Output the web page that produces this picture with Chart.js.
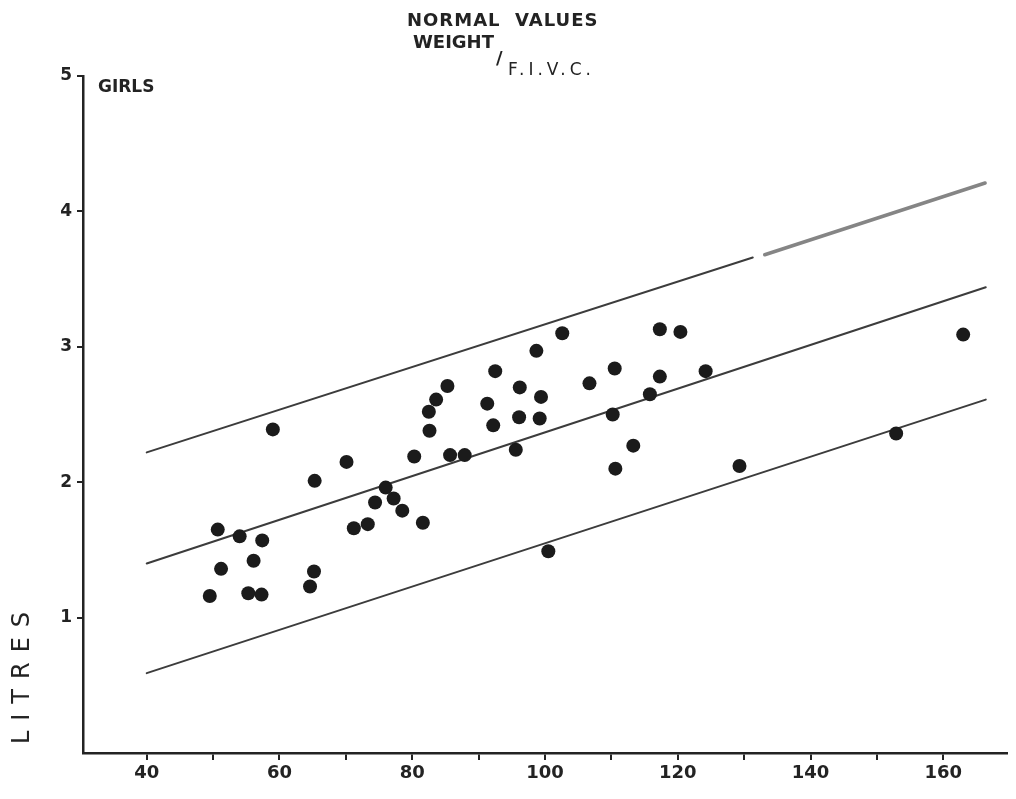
<!DOCTYPE html>
<html>
<head>
<meta charset="utf-8">
<title>Normal values - weight / F.I.V.C.</title>
<script src="https://cdn.jsdelivr.net/npm/chart.js@4/dist/chart.umd.min.js"></script>
<style>
  html, body { margin: 0; padding: 0; background: #fff; }
  #chart { display: block; }
</style>
</head>
<body>
<canvas id="chart" width="1016" height="799"></canvas>
<script>
// girls: body weight (x) against F.I.V.C. in litres (y)
const weights = [49.5, 50.7, 51.2, 54.0, 55.3, 56.1, 57.4, 57.3, 59.0, 64.6,
  65.2, 65.3, 70.1, 71.2, 73.3, 74.4, 76.0, 77.2, 78.5, 80.3,
  81.6, 82.6, 82.5, 83.6, 85.3, 85.7, 87.9, 91.3, 92.2, 92.5,
  95.6, 96.1, 96.2, 98.7, 99.2, 99.4, 100.5, 102.6, 106.7, 110.2,
  110.5, 110.6, 113.3, 115.8, 117.3, 117.3, 120.4, 124.2, 129.3, 152.9,
  163.0];
const litres = [1.16, 1.65, 1.36, 1.60, 1.18, 1.42, 1.57, 1.17, 2.39, 1.23,
  1.34, 2.01, 2.15, 1.66, 1.69, 1.85, 1.96, 1.88, 1.79, 2.19,
  1.70, 2.38, 2.52, 2.61, 2.71, 2.20, 2.20, 2.58, 2.42, 2.82,
  2.24, 2.48, 2.70, 2.97, 2.47, 2.63, 1.49, 3.10, 2.73, 2.50,
  2.84, 2.10, 2.27, 2.65, 3.13, 2.78, 3.11, 2.82, 2.12, 2.36,
  3.09];

// mean line and the two limit lines (upper one is broken near 132)
const upperLineX = [40, 131.3];
const upperLineY = [2.22, 3.66];
const upperFadedX = [133.1, 166.3];
const upperFadedY = [3.68, 4.21];
const middleLineX = [40, 166.4];
const middleLineY = [1.40, 3.44];
const lowerLineX = [40, 166.4];
const lowerLineY = [0.59, 2.61];

const xTicks = [40, 50, 60, 70, 80, 90, 100, 110, 120, 130, 140, 150, 160];
const yTicks = [1, 2, 3, 4, 5];

const ink = '#232323';

function pts(xs, ys) {
  return xs.map((x, i) => ({ x: x, y: ys[i] }));
}

function lineSet(xs, ys, color, width) {
  return {
    type: 'line',
    data: pts(xs, ys),
    borderColor: color,
    borderWidth: width,
    pointRadius: 0,
    fill: false,
    borderCapStyle: 'round'
  };
}

// hand lettering round the plot
const labelsPlugin = {
  id: 'labels',
  afterDraw(chart) {
    const ctx = chart.ctx;
    ctx.save();
    ctx.fillStyle = ink;
    ctx.textBaseline = 'middle';

    ctx.font = 'bold 18px "DejaVu Sans"';
    ctx.textAlign = 'left';
    ctx.letterSpacing = '1px';
    ctx.fillText('NORMAL  VALUES', 407, 21);
    ctx.letterSpacing = '0px';

    ctx.font = 'bold 18px "DejaVu Sans"';
    ctx.fillText('WEIGHT', 413, 43);
    ctx.fillText('/', 496, 59);
    ctx.font = '17px "DejaVu Sans"';
    ctx.letterSpacing = '4px';
    ctx.fillText('F.I.V.C.', 508, 71);
    ctx.letterSpacing = '0px';

    ctx.font = 'bold 17px "DejaVu Sans"';
    ctx.fillText('GIRLS', 98, 88);

    ctx.translate(23, 678);
    ctx.rotate(-Math.PI / 2);
    ctx.textAlign = 'center';
    ctx.font = '24px "DejaVu Sans"';
    ctx.letterSpacing = '10px';
    ctx.fillText('LITRES', 5, 0);
    ctx.restore();
  }
};

new Chart(document.getElementById('chart'), {
  type: 'scatter',
  data: {
    datasets: [
      {
        data: pts(weights, litres),
        backgroundColor: '#1b1b1b',
        borderWidth: 0,
        pointRadius: 7,
        pointHoverRadius: 7
      },
      lineSet(upperLineX, upperLineY, '#3c3c3c', 2),
      lineSet(upperFadedX, upperFadedY, '#858585', 3.5),
      lineSet(middleLineX, middleLineY, '#3c3c3c', 2),
      lineSet(lowerLineX, lowerLineY, '#3c3c3c', 2)
    ]
  },
  options: {
    animation: false,
    responsive: false,
    layout: {
      padding: { left: 0, top: 76, right: 9, bottom: 0 }
    },
    plugins: {
      legend: { display: false },
      tooltip: { enabled: false }
    },
    scales: {
      x: {
        type: 'linear',
        min: 30.4,
        max: 169.6,
        afterFit: (scale) => { scale.height = 46; },
        afterBuildTicks: (scale) => { scale.ticks = xTicks.map(v => ({ value: v })); },
        border: { display: true, color: ink, width: 2.5 },
        grid: {
          drawOnChartArea: false,
          color: ink,
          lineWidth: 2,
          tickLength: 7
        },
        ticks: {
          autoSkip: false,
          maxRotation: 0,
          padding: 3,
          color: ink,
          font: { family: '"DejaVu Sans"', size: 18, weight: 'bold' },
          callback: (v) => (v % 20 === 0 ? String(v) : '')
        }
      },
      y: {
        type: 'linear',
        min: 0,
        max: 5,
        afterFit: (scale) => { scale.width = 83; },
        afterBuildTicks: (scale) => { scale.ticks = yTicks.map(v => ({ value: v })); },
        border: { display: true, color: ink, width: 2.5 },
        grid: {
          drawOnChartArea: false,
          color: ink,
          lineWidth: 2,
          tickLength: 6
        },
        ticks: {
          autoSkip: false,
          padding: 5,
          color: ink,
          font: { family: '"DejaVu Sans"', size: 17, weight: 'bold' },
          callback: (v) => String(v)
        }
      }
    }
  },
  plugins: [labelsPlugin]
});
</script>
</body>
</html>
